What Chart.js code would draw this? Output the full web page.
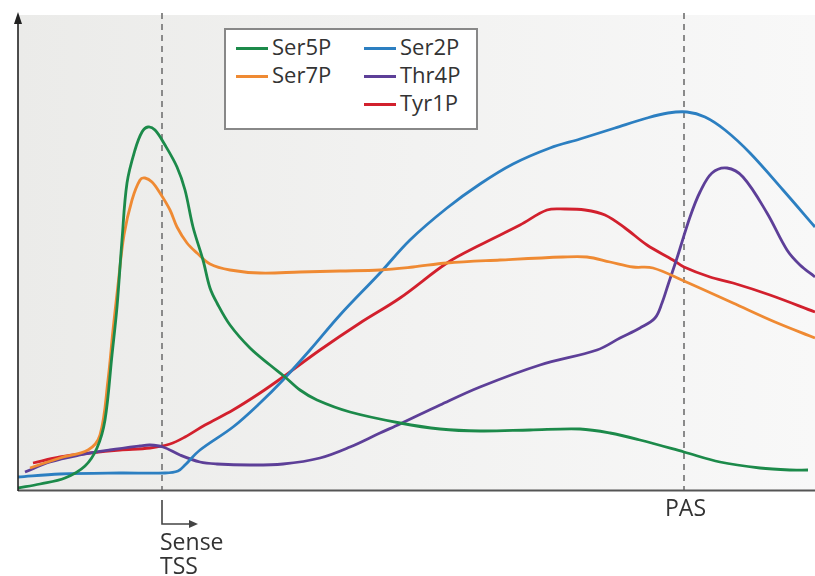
<!DOCTYPE html>
<html>
<head>
<meta charset="utf-8">
<script src="https://cdn.jsdelivr.net/npm/chart.js@4"></script>
<style>
  html, body { margin: 0; padding: 0; background: #ffffff; }
  #wrap { position: relative; width: 815px; height: 576px; font-family: "Open Sans", "DejaVu Sans", sans-serif; color: #333; }
  #wrap canvas { position: absolute; left: 0; top: 0; }
  .lbl { position: absolute; font-size: 23px; line-height: 1; white-space: nowrap; color: #333; }
  #legend { position: absolute; left: 224px; top: 28px; width: 250px; height: 98px; border: 2px solid #888; background: #fff; }
  .lg { position: absolute; font-size: 22px; line-height: 1; white-space: nowrap; color: #333; }
  .sw { position: absolute; height: 3px; width: 32px; }
</style>
</head>
<body>
<div id="wrap">
  <canvas id="c" width="815" height="576"></canvas>
  <div id="legend"></div>
  <div class="lbl" id="pasLbl"></div>
  <div class="lbl" id="tssLbl1"></div>
  <div class="lbl" id="tssLbl2"></div>
</div>
<script>
// ---- Data (x: position along gene, y: signal) ----
const seriesNames = ['Ser5P', 'Ser7P', 'Ser2P', 'Thr4P', 'Tyr1P'];
const seriesColors = ['#1c8a4a', '#ef8a33', '#2c7fc1', '#5d3f98', '#d2202d'];

const ser5P = [[0,2],[22,6],[47,12],[67,24],[79,42],[87,70],[94,135],[99,183],[104,250],[109,307],[117,340],[124,358],[130,363],[137,360],[147,345],[159,323],[167,300],[175,263],[185,230],[192,202],[199,187],[212,165],[232,142],[252,125],[267,113],[282,100],[299,90],[332,78],[382,67],[422,61],[462,59],[512,60],[562,61],[592,57],[622,50],[666,38],[702,28],[742,22],[772,20],[790,20]];
const ser7P = [[12,22],[42,32],[70,40],[82,55],[90,110],[95,160],[100,205],[106,255],[114,290],[122,310],[127,312],[134,308],[142,297],[152,280],[159,263],[169,247],[179,237],[192,226],[212,220],[242,217],[282,218],[322,219],[362,220],[395,223],[429,227],[482,230],[545,233],[569,233],[592,228],[615,223],[635,222],[666,209],[715,187],[757,168],[797,152]];
const ser2P = [[0,13],[42,16],[102,17],[147,17],[160,19],[167,25],[182,40],[215,63],[242,87],[265,110],[292,140],[322,175],[362,217],[392,250],[429,282],[462,306],[495,326],[532,342],[562,351],[597,362],[629,372],[650,377],[669,378],[687,373],[707,360],[732,337],[765,300],[797,263]];
const thr4P = [[7,18],[32,28],[62,35],[92,40],[122,44],[132,45],[145,43],[162,35],[182,28],[199,26],[232,25],[265,26],[302,32],[332,43],[362,57],[382,66],[422,85],[462,103],[522,125],[579,140],[602,152],[622,162],[637,172],[644,187],[650,205],[659,232],[672,273],[682,298],[694,317],[709,322],[725,313],[749,277],[769,240],[782,225],[797,213]];
const tyr1P = [[15,27],[42,33],[72,37],[102,40],[132,42],[152,46],[167,53],[187,65],[215,80],[242,97],[265,113],[302,140],[342,167],[382,192],[429,227],[462,245],[502,265],[529,280],[547,281],[567,280],[587,275],[607,262],[629,245],[655,230],[666,223],[692,213],[715,207],[752,195],[797,178]];
const seriesData = [ser5P, ser7P, ser2P, thr4P, tyr1P];

const landmarkNames = ['TSS', 'PAS'];
const landmarkPos = [144, 666];
const xMax = 797, yMax = 475;

// ---- Plugins ----
const decor = {
  id: 'decor',
  beforeDatasetsDraw(chart) {
    const { ctx, chartArea: a, scales } = chart;
    ctx.save();
    const g = ctx.createLinearGradient(a.left, 0, a.right, 0);
    g.addColorStop(0, '#ebebe9');
    g.addColorStop(0.5, '#f2f2f1');
    g.addColorStop(1, '#f8f8f8');
    ctx.fillStyle = g;
    ctx.fillRect(a.left, a.top, a.right - a.left, a.bottom - a.top);
    ctx.strokeStyle = '#8a8a8a';
    ctx.lineWidth = 2;
    ctx.setLineDash([6, 5]);
    landmarkPos.forEach(p => {
      const x = Math.round(scales.x.getPixelForValue(p));
      ctx.beginPath();
      ctx.moveTo(x, a.top - 2);
      ctx.lineTo(x, a.bottom);
      ctx.stroke();
    });
    ctx.restore();
  },
  afterDraw(chart) {
    const { ctx, chartArea: a, scales } = chart;
    ctx.save();
    ctx.strokeStyle = '#555';
    ctx.lineWidth = 2;
    ctx.beginPath();
    ctx.moveTo(a.left, a.bottom + 0.5);
    ctx.lineTo(a.right, a.bottom + 0.5);
    ctx.stroke();
    ctx.strokeStyle = '#222';
    ctx.lineWidth = 1.6;
    ctx.beginPath();
    ctx.moveTo(a.left, a.bottom + 1);
    ctx.lineTo(a.left, a.top + 6);
    ctx.stroke();
    ctx.fillStyle = '#222';
    ctx.beginPath();
    ctx.moveTo(a.left, a.top - 3);
    ctx.lineTo(a.left - 4, a.top + 9);
    ctx.lineTo(a.left + 4, a.top + 9);
    ctx.closePath();
    ctx.fill();
    const tx = Math.round(scales.x.getPixelForValue(landmarkPos[0]));
    ctx.strokeStyle = '#444';
    ctx.lineWidth = 1.6;
    ctx.beginPath();
    ctx.moveTo(tx, a.bottom + 10);
    ctx.lineTo(tx, a.bottom + 34);
    ctx.lineTo(tx + 28, a.bottom + 34);
    ctx.stroke();
    ctx.fillStyle = '#444';
    ctx.beginPath();
    ctx.moveTo(tx + 36, a.bottom + 34);
    ctx.lineTo(tx + 27, a.bottom + 30);
    ctx.lineTo(tx + 27, a.bottom + 38);
    ctx.closePath();
    ctx.fill();
    ctx.restore();
  }
};

const datasets = seriesNames.map((n, i) => ({
  label: n,
  data: seriesData[i].map(p => ({ x: p[0], y: p[1] })),
  borderColor: seriesColors[i],
  borderWidth: 2.8,
  pointRadius: 0,
  fill: false,
  tension: 0.35
}));

const chart = new Chart(document.getElementById('c'), {
  type: 'line',
  data: { datasets },
  options: {
    responsive: false,
    animation: false,
    layout: { padding: { left: 18, top: 15, right: 0, bottom: 86 } },
    plugins: { legend: { display: false }, tooltip: { enabled: false } },
    scales: {
      x: { type: 'linear', min: 0, max: xMax, display: false },
      y: { type: 'linear', min: 0, max: yMax, display: false }
    }
  },
  plugins: [decor]
});

// ---- Text labels (HTML) ----
const a = chart.chartArea;
const pasX = chart.scales.x.getPixelForValue(landmarkPos[1]);
const tssX = chart.scales.x.getPixelForValue(landmarkPos[0]);
const pas = document.getElementById('pasLbl');
pas.textContent = landmarkNames[1];
pas.style.left = (pasX - 19) + 'px';
pas.style.top = (a.bottom + 6) + 'px';
const t1 = document.getElementById('tssLbl1');
t1.textContent = 'Sense';
t1.style.left = (tssX - 2) + 'px';
t1.style.top = (a.bottom + 40) + 'px';
const t2 = document.getElementById('tssLbl2');
t2.textContent = landmarkNames[0];
t2.style.left = (tssX - 2) + 'px';
t2.style.top = (a.bottom + 64) + 'px';

const lg = document.getElementById('legend');
const legendPos = [
  { col: 0, row: 0 }, { col: 0, row: 1 }, { col: 1, row: 0 }, { col: 1, row: 1 }, { col: 1, row: 2 }
];
seriesNames.forEach((n, i) => {
  const p = legendPos[i];
  const sx = p.col === 0 ? 10 : 138;
  const rowY = 18 + p.row * 28;
  const sw = document.createElement('div');
  sw.className = 'sw';
  sw.style.background = seriesColors[i];
  sw.style.left = sx + 'px';
  sw.style.top = (rowY - 1) + 'px';
  lg.appendChild(sw);
  const t = document.createElement('div');
  t.className = 'lg';
  t.textContent = n;
  t.style.left = (sx + 36) + 'px';
  t.style.top = (rowY - 13) + 'px';
  lg.appendChild(t);
});
</script>
</body>
</html>
